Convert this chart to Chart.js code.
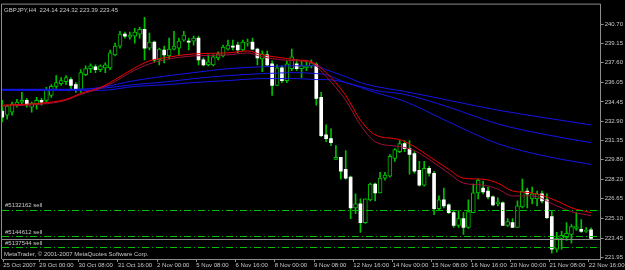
<!DOCTYPE html>
<html>
<head>
<meta charset="utf-8">
<script src="https://cdn.jsdelivr.net/npm/chart.js@4.4.1/dist/chart.umd.min.js"></script>
<style>
html, body { margin: 0; padding: 0; background: #000; }
canvas { display: block; }
</style>
</head>
<body>
<canvas id="chart" width="625" height="270"></canvas>
<script>
// GBPJPY H4, 25 Oct - 22 Nov 2007, one entry per bar
const headerText = 'GBPJPY,H4  224.14 224.32 223.39 223.45';
const footerText = 'MetaTrader, \u00a9 2001-2007 MetaQuotes Software Corp.';

const timeLabels = ['25 Oct 2007', '29 Oct 00:00', '30 Oct 08:00', '31 Oct 16:00', '2 Nov 00:00',
  '5 Nov 08:00', '6 Nov 16:00', '8 Nov 00:00', '9 Nov 08:00', '12 Nov 16:00', '14 Nov 00:00',
  '15 Nov 08:00', '16 Nov 16:00', '20 Nov 00:00', '21 Nov 08:00', '22 Nov 16:00'];
const priceTicks = [240.70, 239.15, 237.60, 236.05, 234.45, 232.90, 231.35, 229.80,
  228.20, 226.65, 225.10, 223.45, 221.95];

const openP = [233.71, 233.39, 233.63, 234.19, 234.43, 234.58, 234.03, 234.27, 234.58, 234.58,
  234.98, 235.70, 235.93, 236.09, 236.25, 235.85, 235.46, 236.65, 237.13, 237.28,
  237.05, 237.20, 237.20, 238.24, 238.95, 239.91, 239.67, 239.75, 239.91, 240.30,
  238.79, 239.27, 237.84, 238.63, 238.16, 238.71, 238.79, 239.43, 239.35, 239.35,
  239.59, 237.84, 237.44, 237.44, 238.00, 238.16, 238.71, 238.95, 239.03, 238.63,
  239.19, 239.27, 238.71, 237.92, 238.24, 237.52, 235.78, 237.20, 236.17, 237.13,
  237.52, 237.13, 237.20, 237.36, 237.44, 234.82, 231.80, 231.49, 229.82, 229.98,
  229.02, 228.39, 225.92, 226.24, 224.73, 226.56, 227.83, 227.12, 228.31, 228.47,
  229.90, 230.45, 231.09, 230.69, 230.30, 228.94, 227.75, 229.10, 228.71, 225.85,
  226.56, 226.16, 225.53, 224.50, 225.05, 224.34, 225.53, 227.12, 227.51, 227.28,
  226.80, 226.24, 226.32, 224.50, 224.73, 224.34, 226.00, 227.28, 226.64, 226.64,
  227.04, 226.56, 225.21, 222.59, 223.46, 223.54, 223.78, 224.26, 224.18, 224.02,
  224.14];
const highP = [234.58, 234.19, 234.43, 234.66, 235.22, 234.74, 234.43, 234.82, 234.74, 235.62,
  235.85, 236.57, 236.41, 236.57, 236.41, 236.01, 237.05, 237.36, 237.52, 237.44,
  237.44, 237.60, 238.63, 239.19, 240.14, 240.07, 240.07, 240.38, 240.46, 241.26,
  239.99, 239.35, 238.79, 238.95, 239.59, 240.14, 239.59, 240.14, 239.59, 239.75,
  239.75, 238.00, 238.24, 238.24, 238.48, 239.03, 239.43, 239.43, 239.27, 239.43,
  239.51, 239.59, 238.79, 238.56, 238.56, 237.76, 237.44, 237.36, 237.76, 238.71,
  237.84, 237.76, 237.76, 237.84, 237.60, 235.22, 232.60, 232.28, 230.93, 229.98,
  230.53, 228.47, 227.04, 226.64, 226.64, 227.91, 227.91, 228.79, 228.79, 230.22,
  230.69, 231.33, 231.33, 231.33, 230.45, 229.66, 229.66, 229.26, 228.87, 226.88,
  227.51, 226.24, 225.69, 225.69, 225.53, 226.56, 227.83, 228.23, 228.07, 227.59,
  226.88, 226.72, 226.40, 225.05, 225.05, 226.48, 228.23, 227.51, 227.59, 227.28,
  227.28, 227.04, 225.61, 223.94, 224.02, 224.73, 224.58, 225.53, 224.97, 224.34,
  224.32];
const lowP = [232.84, 233.07, 233.39, 234.03, 234.27, 234.03, 233.63, 233.87, 234.19, 234.43,
  234.82, 235.54, 235.78, 235.85, 235.46, 235.22, 235.22, 236.57, 236.81, 236.81,
  236.89, 236.81, 237.05, 238.16, 238.79, 239.59, 239.51, 239.19, 239.59, 237.84,
  238.63, 237.68, 237.44, 237.60, 237.92, 238.63, 238.24, 239.35, 238.63, 239.03,
  237.44, 237.36, 237.36, 237.36, 237.84, 238.08, 238.63, 238.63, 238.40, 238.56,
  238.95, 238.63, 237.44, 236.89, 237.36, 234.98, 235.78, 236.01, 236.01, 236.97,
  236.97, 236.41, 236.97, 237.20, 234.19, 231.65, 231.25, 230.93, 229.82, 228.23,
  228.23, 225.05, 225.45, 223.94, 224.66, 226.48, 226.48, 227.12, 228.15, 228.39,
  229.66, 230.37, 230.45, 228.63, 228.71, 227.67, 227.67, 228.47, 225.37, 225.77,
  225.92, 225.45, 224.34, 224.34, 223.78, 224.26, 225.53, 226.64, 227.04, 226.64,
  226.08, 226.08, 224.50, 224.42, 224.34, 224.34, 225.92, 225.92, 226.24, 226.08,
  226.32, 225.05, 222.27, 222.35, 222.59, 223.30, 223.07, 224.10, 223.94, 223.94,
  223.39];
const closeP = [233.23, 234.11, 234.27, 234.43, 234.58, 234.27, 234.35, 234.58, 234.43, 235.46,
  235.70, 236.01, 236.17, 236.41, 235.78, 235.46, 236.81, 237.13, 237.36, 237.05,
  237.36, 237.44, 238.40, 238.95, 239.91, 239.75, 239.83, 240.07, 240.30, 238.79,
  239.27, 237.84, 238.71, 238.24, 238.71, 238.95, 239.35, 239.83, 239.27, 239.59,
  237.84, 237.44, 237.68, 238.08, 238.32, 238.87, 239.03, 238.87, 238.63, 239.27,
  239.27, 238.71, 238.00, 238.32, 237.44, 235.78, 237.20, 236.17, 237.52, 238.08,
  237.13, 237.36, 237.36, 237.60, 234.74, 231.73, 231.49, 231.17, 229.98, 228.87,
  228.31, 225.92, 226.24, 224.73, 226.64, 227.83, 227.12, 228.31, 228.55, 230.06,
  230.61, 231.09, 230.69, 230.22, 228.87, 227.75, 229.10, 228.71, 225.85, 226.56,
  226.08, 225.53, 224.50, 225.05, 224.34, 225.61, 227.12, 228.15, 227.20, 226.80,
  226.16, 226.40, 224.50, 224.81, 224.34, 226.08, 227.28, 227.04, 227.04, 227.04,
  226.48, 225.13, 222.59, 223.46, 223.70, 223.86, 224.42, 224.42, 224.02, 224.10,
  223.45];

// red pair (fast averages), read at these bars
const redBars = [0, 8, 13, 16, 20, 23, 26, 30, 33, 39, 46, 50, 53, 57, 60, 63, 66, 70, 73, 76,
  81, 84, 87, 91, 94, 98, 101, 104, 108, 113, 116, 120];
const redUpper = [234.19, 234.35, 234.66, 235.14, 235.62, 236.25, 236.97, 237.76, 238.00, 238.32,
  238.40, 238.56, 238.24, 238.00, 237.84, 237.68, 236.81, 234.98, 232.99, 231.80,
  231.41, 230.85, 230.06, 229.02, 228.31, 228.23, 227.91, 227.28, 227.12, 226.48,
  225.93, 225.53];
const redLower = [234.11, 234.27, 234.58, 235.06, 235.54, 236.09, 236.81, 237.52, 237.84, 238.16,
  238.24, 238.40, 238.08, 237.84, 237.76, 237.60, 236.49, 234.58, 232.60, 231.25,
  230.85, 230.53, 229.82, 228.71, 227.91, 227.75, 227.43, 226.88, 226.88, 226.08,
  225.61, 225.29];

// three blue (slow averages)
const blueBars = [0, 15, 20, 27, 34, 39, 46, 53, 60, 64, 66, 70, 73, 76, 82, 91, 101, 111, 120];
const blueA = [235.46, 235.46, 235.62, 236.17, 236.57, 236.81, 237.13, 237.28, 237.36, 237.36,
  237.05, 236.49, 236.01, 235.70, 235.30, 234.58, 233.79, 233.15, 232.60];
const blueB = [235.46, 235.46, 235.54, 235.85, 236.09, 236.33, 236.57, 236.73, 236.81, 236.73,
  236.65, 236.01, 235.70, 235.38, 235.06, 234.03, 232.68, 231.80, 231.17];
const blueC = [235.38, 235.38, 235.38, 235.70, 235.85, 236.01, 236.17, 236.33, 236.33, 236.25,
  236.25, 236.01, 235.62, 235.22, 234.50, 232.84, 231.09, 230.06, 229.42];

// open sell orders
const orderNames = ['#5132162 sell', '#5144612 sell', '#5137544 sell'];
const orderLevels = [225.77, 223.62, 222.75];
const bidPrice = 223.45;

const GREEN = '#00c000';
const TXT = '#c8c8c8';
const FONT = { family: 'Liberation Sans, Arial, sans-serif', size: 6 };

const wicks = lowP.map((l, i) => ({ x: i, y: [l, highP[i]] }));
const bullBodies = [];
const bearBodies = [];
openP.forEach((o, i) => {
  const c = closeP[i];
  const body = { x: i, y: [Math.min(o, c), Math.max(o, c)] };
  if (c >= o) bullBodies.push(body); else bearBodies.push(body);
});

function lineSet(bars, vals, color) {
  return {
    type: 'line',
    data: bars.map((b, i) => ({ x: b, y: vals[i] })),
    borderColor: color,
    borderWidth: 1,
    pointRadius: 0,
    cubicInterpolationMode: 'monotone',
    order: 0
  };
}

const chartDecor = {
  id: 'chartDecor',
  beforeDraw(chart) {
    const c = chart.ctx;
    c.save();
    c.fillStyle = '#000';
    c.fillRect(0, 0, chart.width, chart.height);
    c.restore();
  },
  afterDatasetsDraw(chart) {
    const c = chart.ctx;
    const a = chart.chartArea;
    const y = chart.scales.y;
    c.save();
    c.lineWidth = 1;
    // bid line
    let py = Math.round(y.getPixelForValue(bidPrice)) + 0.5;
    c.strokeStyle = '#8c8c8c';
    c.beginPath(); c.moveTo(a.left, py); c.lineTo(a.right, py); c.stroke();
    // order lines
    c.strokeStyle = GREEN;
    c.setLineDash([7, 3, 1, 3]);
    orderLevels.forEach(v => {
      const p = Math.round(y.getPixelForValue(v)) + 0.5;
      c.beginPath(); c.moveTo(a.left, p); c.lineTo(a.right, p); c.stroke();
    });
    c.setLineDash([]);
    c.font = FONT.size + 'px ' + FONT.family;
    c.fillStyle = TXT;
    c.textBaseline = 'middle';
    orderNames.forEach((t, i) => {
      c.fillText(t, a.left + 3, y.getPixelForValue(orderLevels[i]) - 4);
    });
    c.fillText(headerText, a.left + 2, a.top + 6);
    c.fillText(footerText, a.left + 2, a.bottom - 5);
    // frame
    c.strokeStyle = '#8c8c8c';
    c.beginPath();
    c.moveTo(a.left - 0.5, a.bottom); c.lineTo(a.left - 0.5, a.top - 0.5); c.lineTo(a.right, a.top - 0.5);
    c.stroke();
    c.restore();
  }
};

new Chart(document.getElementById('chart'), {
  type: 'bar',
  data: {
    datasets: [
      lineSet(redBars, redUpper, '#f00000'),
      lineSet(redBars, redLower, '#a0103c'),
      lineSet(blueBars, blueA, '#1414e6'),
      lineSet(blueBars, blueB, '#1414e6'),
      lineSet(blueBars, blueC, '#1414e6'),
      { data: bullBodies, backgroundColor: '#000', borderColor: GREEN, borderWidth: 1,
        borderSkipped: false, barThickness: 4, grouped: false, order: 1 },
      { data: bearBodies, backgroundColor: '#fff', borderWidth: 0,
        barThickness: 3, grouped: false, order: 1 },
      { data: wicks, backgroundColor: GREEN, borderWidth: 0,
        barThickness: 1, grouped: false, order: 2 }
    ]
  },
  options: {
    responsive: false,
    devicePixelRatio: 1,
    animation: false,
    layout: { padding: { left: 2, top: 1, right: 0, bottom: 0 } },
    plugins: { legend: { display: false }, tooltip: { enabled: false } },
    scales: {
      x: {
        type: 'linear', min: -0.05, max: 121.95, offset: false,
        grid: { drawOnChartArea: false, drawTicks: true, tickLength: 3, color: '#8c8c8c', offset: false },
        border: { color: '#8c8c8c' },
        ticks: { color: TXT, font: FONT, align: 'start', maxRotation: 0, autoSkip: false, padding: 0,
          callback: (v, i) => timeLabels[i] },
        afterBuildTicks: s => { s.ticks = timeLabels.map((t, i) => ({ value: i === 0 ? 0.2 : 8 * i - 0.45 })); },
        afterFit: s => { s.height = 11; }
      },
      y: {
        type: 'linear', position: 'right', min: 221.80, max: 242.29,
        grid: { drawOnChartArea: false, drawTicks: true, tickLength: 3, color: '#8c8c8c' },
        border: { color: '#8c8c8c' },
        ticks: { color: TXT, font: FONT, padding: 1, autoSkip: false,
          callback: v => v.toFixed(2) },
        afterBuildTicks: s => { s.ticks = priceTicks.map(v => ({ value: v })); },
        afterFit: s => { s.width = 23; }
      }
    }
  },
  plugins: [chartDecor]
});
</script>
</body>
</html>
